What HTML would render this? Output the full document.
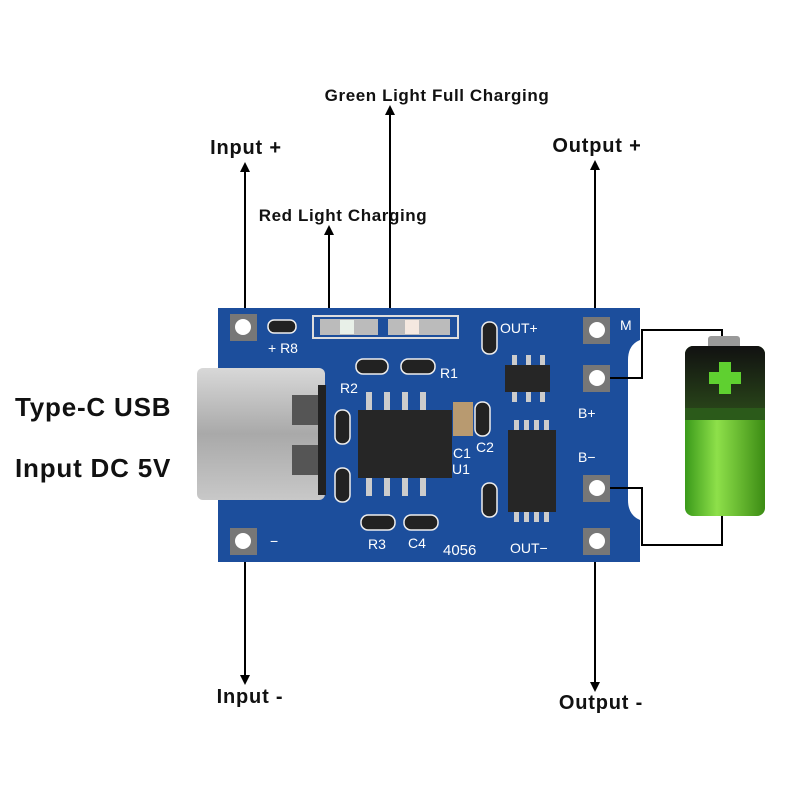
<!DOCTYPE html>
<html><head><meta charset="utf-8"><style>
html,body{margin:0;padding:0;background:#fff;width:800px;height:800px;overflow:hidden}
</style></head><body>
<svg width="800" height="800" viewBox="0 0 800 800" xmlns="http://www.w3.org/2000/svg" font-family="Liberation Sans, sans-serif">
<defs>
<marker id="ah" markerWidth="10" markerHeight="10" refX="5" refY="5" orient="auto-start-reverse" markerUnits="userSpaceOnUse">
<path d="M0,0 L10,5 L0,10 Z" fill="#000"/></marker>
<linearGradient id="usb" x1="0" y1="0" x2="0" y2="1"><stop offset="0" stop-color="#d8d8d8"/><stop offset="0.5" stop-color="#a9a9a9"/><stop offset="1" stop-color="#c8c8c8"/></linearGradient>
<linearGradient id="bat" x1="0" y1="0" x2="1" y2="0"><stop offset="0" stop-color="#3a9a1a"/><stop offset="0.4" stop-color="#8ee04a"/><stop offset="1" stop-color="#3c8c14"/></linearGradient>
<linearGradient id="batd" x1="0" y1="0" x2="0" y2="1"><stop offset="0" stop-color="#111"/><stop offset="1" stop-color="#2b4a1a"/></linearGradient>
</defs>
<g font-weight="bold" fill="#111">
<text x="437" y="101" font-size="17" letter-spacing="0.6" text-anchor="middle">Green Light Full Charging</text>
<text x="246" y="154" font-size="20" letter-spacing="0.8" text-anchor="middle">Input +</text>
<text x="343" y="221" font-size="17" letter-spacing="0.6" text-anchor="middle">Red Light Charging</text>
<text x="597" y="152" font-size="20" letter-spacing="0.8" text-anchor="middle">Output +</text>
<text x="15" y="416" font-size="26" letter-spacing="0.8">Type-C USB</text>
<text x="15" y="477" font-size="26" letter-spacing="0.8">Input DC 5V</text>
<text x="250" y="703" font-size="20" letter-spacing="0.8" text-anchor="middle">Input -</text>
<text x="601" y="709" font-size="20" letter-spacing="0.8" text-anchor="middle">Output -</text>
</g>
<g stroke="#000" stroke-width="2">
<line x1="245" y1="167" x2="245" y2="318" marker-start="url(#ah)"/>
<line x1="245" y1="548" x2="245" y2="680" marker-end="url(#ah)"/>
<line x1="329" y1="230" x2="329" y2="322" marker-start="url(#ah)"/>
<line x1="390" y1="110" x2="390" y2="322" marker-start="url(#ah)"/>
<line x1="595" y1="165" x2="595" y2="318" marker-start="url(#ah)"/>
<line x1="595" y1="548" x2="595" y2="687" marker-end="url(#ah)"/>
</g>
<path d="M218,308 H640 V340 Q628,345 628,360 V500 Q628,515 640,520 V562 H218 Z" fill="#1c4e9c"/>
<g stroke="#000" stroke-width="2" fill="none">
<polyline points="600,378 642,378 642,330 722,330 722,345"/>
<polyline points="600,488 642,488 642,545 722,545 722,515"/>
</g>
<g>
<rect x="230" y="314" width="27" height="27" fill="#777"/><circle cx="243" cy="327" r="8" fill="#fff"/>
<rect x="230" y="528" width="27" height="27" fill="#777"/><circle cx="243" cy="541" r="8" fill="#fff"/>
<rect x="583" y="317" width="27" height="27" fill="#777"/><circle cx="597" cy="330" r="8" fill="#fff"/>
<rect x="583" y="365" width="27" height="27" fill="#777"/><circle cx="597" cy="378" r="8" fill="#fff"/>
<rect x="583" y="475" width="27" height="27" fill="#777"/><circle cx="597" cy="488" r="8" fill="#fff"/>
<rect x="583" y="528" width="27" height="27" fill="#777"/><circle cx="597" cy="541" r="8" fill="#fff"/>
</g>
<rect x="313" y="316" width="145" height="22" fill="none" stroke="#ddd" stroke-width="2"/>
<rect x="320" y="319" width="58" height="16" fill="#bbb"/><rect x="340" y="320" width="14" height="14" fill="#e8f0e8"/>
<rect x="388" y="319" width="62" height="16" fill="#bbb"/><rect x="405" y="320" width="14" height="14" fill="#f4e8e0"/>
<rect x="197" y="368" width="128" height="132" rx="6" fill="url(#usb)"/>
<rect x="292" y="395" width="26" height="30" fill="#555"/><rect x="292" y="445" width="26" height="30" fill="#555"/>
<rect x="318" y="385" width="8" height="110" fill="#222"/>
<g fill="#ccc">
<rect x="366" y="392" width="6" height="20"/><rect x="384" y="392" width="6" height="20"/><rect x="402" y="392" width="6" height="20"/><rect x="420" y="392" width="6" height="20"/>
<rect x="366" y="476" width="6" height="20"/><rect x="384" y="476" width="6" height="20"/><rect x="402" y="476" width="6" height="20"/><rect x="420" y="476" width="6" height="20"/>
<rect x="512" y="355" width="5" height="12"/><rect x="526" y="355" width="5" height="12"/><rect x="540" y="355" width="5" height="12"/>
<rect x="512" y="390" width="5" height="12"/><rect x="526" y="390" width="5" height="12"/><rect x="540" y="390" width="5" height="12"/>
<rect x="514" y="420" width="5" height="12"/><rect x="524" y="420" width="5" height="12"/><rect x="534" y="420" width="5" height="12"/><rect x="544" y="420" width="5" height="12"/>
<rect x="514" y="510" width="5" height="12"/><rect x="524" y="510" width="5" height="12"/><rect x="534" y="510" width="5" height="12"/><rect x="544" y="510" width="5" height="12"/>
</g>
<rect x="358" y="410" width="94" height="68" fill="#262626"/>
<rect x="505" y="365" width="45" height="27" fill="#262626"/>
<rect x="508" y="430" width="48" height="82" fill="#262626"/>
<rect x="453" y="402" width="20" height="34" fill="#b89a70"/>
<g fill="#222" stroke="#eee" stroke-width="1.5">
<rect x="268" y="320" width="28" height="13" rx="6"/>
<rect x="356" y="359" width="32" height="15" rx="7"/><rect x="401" y="359" width="34" height="15" rx="7"/>
<rect x="335" y="410" width="15" height="34" rx="7"/><rect x="335" y="468" width="15" height="34" rx="7"/>
<rect x="475" y="402" width="15" height="34" rx="7"/><rect x="482" y="322" width="15" height="32" rx="7"/>
<rect x="482" y="483" width="15" height="34" rx="7"/>
<rect x="361" y="515" width="34" height="15" rx="7"/><rect x="404" y="515" width="34" height="15" rx="7"/>
</g>
<g fill="#fff" font-size="14">
<text x="268" y="353">+ R8</text><text x="500" y="333">OUT+</text><text x="620" y="330">M</text>
<text x="340" y="393">R2</text><text x="440" y="378">R1</text>
<text x="578" y="418">B+</text><text x="578" y="462">B−</text>
<text x="453" y="458">C1</text><text x="476" y="452">C2</text><text x="452" y="474">U1</text>
<text x="368" y="549">R3</text><text x="408" y="548">C4</text>
<text x="443" y="555" font-size="15">4056</text><text x="510" y="553">OUT−</text>
<text x="270" y="546">−</text>
</g>
<rect x="708" y="336" width="32" height="14" rx="3" fill="#999"/>
<rect x="685" y="346" width="80" height="170" rx="8" fill="url(#bat)"/>
<rect x="685" y="346" width="80" height="72" rx="8" fill="url(#batd)"/>
<rect x="685" y="408" width="80" height="12" fill="#2b5a1a"/>
<rect x="719" y="362" width="12" height="32" fill="#5fd030"/><rect x="709" y="372" width="32" height="12" fill="#5fd030"/>
</svg>
</body></html>
